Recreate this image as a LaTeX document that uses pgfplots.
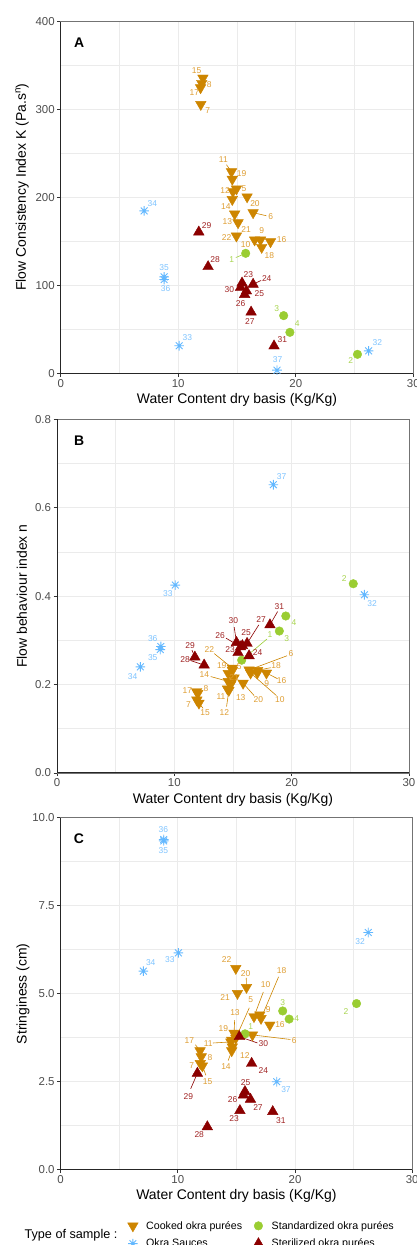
\documentclass[border=0pt]{standalone}
\usepackage{fontspec}
\setmainfont{Liberation Sans}
\usepackage{pgfplots}
\usepackage{pgfplotstable}
\pgfplotsset{compat=1.18}

\definecolor{ck}{RGB}{205,133,0}
\definecolor{ckl}{RGB}{222,157,50}
\definecolor{sd}{RGB}{154,205,50}
\definecolor{sdl}{RGB}{168,212,80}
\definecolor{sa}{RGB}{99,184,255}
\definecolor{sal}{RGB}{125,195,255}
\definecolor{st}{RGB}{139,0,0}
\definecolor{stl}{RGB}{160,35,35}
\definecolor{gridc}{RGB}{235,235,235}
\definecolor{tickc}{RGB}{77,77,77}

\newcommand\lblfont{\fontsize{8.5}{9}\selectfont}
\newcommand\tickfont{\fontsize{11.5}{13}\selectfont}
\newcommand\titlefont{\fontsize{14}{16}\selectfont}

% 8-armed asterisk, like ggplot shape 8
\pgfdeclareplotmark{ast8}{%
  \pgfpathmoveto{\pgfqpoint{-\pgfplotmarksize}{0pt}}%
  \pgfpathlineto{\pgfqpoint{\pgfplotmarksize}{0pt}}%
  \pgfpathmoveto{\pgfqpoint{0pt}{-\pgfplotmarksize}}%
  \pgfpathlineto{\pgfqpoint{0pt}{\pgfplotmarksize}}%
  \pgfpathmoveto{\pgfqpoint{-0.7071\pgfplotmarksize}{-0.7071\pgfplotmarksize}}%
  \pgfpathlineto{\pgfqpoint{0.7071\pgfplotmarksize}{0.7071\pgfplotmarksize}}%
  \pgfpathmoveto{\pgfqpoint{-0.7071\pgfplotmarksize}{0.7071\pgfplotmarksize}}%
  \pgfpathlineto{\pgfqpoint{0.7071\pgfplotmarksize}{-0.7071\pgfplotmarksize}}%
  \pgfusepathqstroke}

% columns: sample, point, label position, end of leader segment
\pgfplotstableread{
lab x y lx ly ex ey
15 12.10 336 11.57 344.3 12.10 336
8 12.00 330 12.64 328 12.00 330
17 11.90 325 11.37 319.8 11.90 325
7 11.92 306 12.50 298.5 11.92 306
11 14.53 229.5 13.84 242.8 14.10 237.5
19 14.60 221 15.40 227 14.60 221
12 14.65 207 13.98 208 14.65 207
5 14.95 210 15.60 210.7 14.95 210
14 14.60 198 14.06 189.8 14.60 198
20 15.86 201 16.53 192.8 15.86 201
6 16.37 183 17.87 178.4 17.50 179.5
13 14.80 181.5 14.18 172.7 14.80 181.5
21 15.09 171.6 15.77 163.3 15.09 171.6
22 14.95 156.5 14.12 155 14.95 156.5
9 17.00 152 17.10 162.2 17.00 152
10 16.50 152 15.74 146.3 16.50 152
16 17.85 150 18.80 152 17.85 150
18 17.10 143.6 17.75 133.8 17.10 143.6
}\ckA
\pgfplotstableread{
lab x y lx ly ex ey
1 15.74 136.8 14.55 130 14.90 132
2 25.25 22 24.67 14.8 25.25 22
3 18.97 66 18.38 74.3 18.97 66
4 19.50 47 20.13 56.5 19.50 47
}\sdA
\pgfplotstableread{
lab x y lx ly ex ey
32 26.20 26 26.94 35.2 26.20 26
33 10.08 31.8 10.77 41 10.08 31.8
34 7.10 185 7.79 193.6 7.10 185
35 8.80 110 8.79 121 8.80 110
36 8.80 107 8.93 96.3 8.80 107
37 18.40 4 18.46 15.6 18.40 4
}\saA
\pgfplotstableread{
lab x y lx ly ex ey
23 15.43 103 15.96 113 15.43 103
24 16.37 101.6 17.53 108.4 17.05 106
25 15.80 94 16.90 90.6 15.80 94
26 15.65 90 15.30 79.2 15.65 90
27 16.20 70 16.10 59 16.20 70
28 12.54 121.6 13.13 129.2 12.54 121.6
29 11.75 161 12.42 167.8 11.75 161
30 15.30 98 14.35 96 15.30 98
31 18.15 31.5 18.86 38.3 18.15 31.5
}\stA

\pgfplotstableread{
lab x y lx ly ex ey
15 12.10 0.158 12.62 0.137 12.45 0.146
8 12.00 0.180 12.70 0.190 12.00 0.180
17 11.90 0.184 11.11 0.186 11.90 0.184
7 11.92 0.165 11.20 0.154 11.92 0.165
11 14.53 0.190 13.98 0.172 14.53 0.190
19 14.60 0.225 14.04 0.242 14.60 0.225
12 14.65 0.187 14.27 0.136 14.45 0.150
5 14.95 0.232 15.54 0.240 14.95 0.232
14 14.60 0.207 12.56 0.222 13.10 0.218
20 15.86 0.203 17.16 0.167 16.80 0.175
6 16.37 0.233 19.95 0.270 19.60 0.265
13 14.80 0.200 15.66 0.171 14.80 0.200
21 15.09 0.215 15.09 0.215 15.09 0.215
22 14.95 0.237 12.99 0.278 13.40 0.270
9 17.07 0.226 17.88 0.201 17.07 0.226
10 16.50 0.226 19.00 0.167 18.70 0.175
16 17.85 0.226 19.15 0.209 18.80 0.213
18 17.10 0.232 18.67 0.242 18.20 0.238
}\ckB
\pgfplotstableread{
lab x y lx ly ex ey
1 15.74 0.255 18.16 0.312 17.90 0.303
2 25.25 0.428 24.47 0.439 25.25 0.428
3 18.95 0.321 19.58 0.304 18.95 0.321
4 19.50 0.355 20.20 0.341 19.50 0.355
}\sdB
\pgfplotstableread{
lab x y lx ly ex ey
32 26.20 0.403 26.85 0.384 26.20 0.403
33 10.08 0.425 9.44 0.406 10.08 0.425
34 7.10 0.240 6.45 0.218 7.10 0.240
35 8.80 0.279 8.16 0.262 8.80 0.279
36 8.85 0.286 8.16 0.303 8.85 0.286
37 18.44 0.652 19.15 0.670 18.44 0.652
}\saB
\pgfplotstableread{
lab x y lx ly ex ey
23 15.43 0.272 14.75 0.278 15.43 0.272
24 16.37 0.265 17.10 0.272 16.37 0.265
25 15.80 0.288 16.11 0.318 15.80 0.288
26 15.65 0.285 13.90 0.310 14.40 0.305
27 16.20 0.293 17.39 0.346 17.20 0.335
28 12.54 0.244 10.91 0.257 11.40 0.254
29 11.75 0.262 11.34 0.288 11.50 0.278
30 15.30 0.295 15.03 0.344 15.10 0.330
31 18.15 0.335 18.95 0.376 18.80 0.365
}\stB

\pgfplotstableread{
lab x y lx ly ex ey
15 12.10 2.95 12.55 2.50 12.40 2.68
8 12.00 3.21 12.75 3.19 12.00 3.21
17 11.90 3.38 10.98 3.66 11.50 3.55
7 11.92 3.02 11.18 2.97 11.92 3.02
11 14.53 3.63 12.60 3.59 13.00 3.60
19 14.60 3.68 13.88 4.02 14.60 3.68
12 14.65 3.49 15.73 3.24 14.65 3.49
5 14.95 3.74 16.22 4.82 16.10 4.60
14 14.60 3.38 14.11 2.93 14.30 3.10
20 15.86 5.18 15.79 5.58 15.84 5.45
6 16.37 3.83 19.94 3.68 19.60 3.70
13 14.80 3.88 14.88 4.46 14.85 4.25
21 15.09 5.01 14.03 4.90 15.09 5.01
22 14.95 5.72 14.17 5.96 14.95 5.72
9 17.00 4.40 17.72 4.54 17.00 4.40
10 16.50 4.35 17.50 5.25 17.30 5.05
16 17.85 4.11 18.72 4.13 17.85 4.11
18 17.10 4.30 18.86 5.67 18.60 5.48
}\ckC
\pgfplotstableread{
lab x y lx ly ex ey
1 15.74 3.86 16.22 4.06 15.74 3.86
2 25.25 4.72 24.35 4.48 25.25 4.72
3 18.95 4.51 18.95 4.76 18.95 4.51
4 19.50 4.28 20.14 4.28 19.50 4.28
}\sdC
\pgfplotstableread{
lab x y lx ly ex ey
32 26.25 6.74 25.55 6.48 26.25 6.74
33 10.05 6.16 9.33 5.96 10.05 6.16
34 7.06 5.64 7.69 5.88 7.06 5.64
35 8.80 9.34 8.76 9.08 8.80 9.34
36 8.80 9.38 8.76 9.67 8.80 9.38
37 18.44 2.50 19.23 2.28 18.44 2.50
}\saC
\pgfplotstableread{
lab x y lx ly ex ey
23 15.30 1.68 14.80 1.46 15.30 1.68
24 16.30 3.02 17.30 2.81 16.30 3.02
25 15.73 2.22 15.79 2.47 15.73 2.22
26 15.60 2.12 14.68 2.00 15.60 2.12
27 16.20 2.00 16.84 1.77 16.20 2.00
28 12.52 1.22 11.83 0.99 12.52 1.22
29 11.67 2.74 10.90 2.09 11.10 2.30
30 15.25 3.78 17.30 3.57 16.80 3.60
31 18.10 1.65 18.80 1.39 18.10 1.65
}\stC

\newcommand\segs[2]{\addplot[forget plot, #2, line width=0.6bp,
  quiver={u=\thisrow{ex}-\thisrow{x}, v=\thisrow{ey}-\thisrow{y}}] table[x=x,y=y]{#1};}
\newcommand\labs[2]{\addplot[forget plot, draw=none, nodes near coords,
  point meta=explicit symbolic,
  every node near coord/.style={anchor=center, inner sep=0pt, text=#2, font=\lblfont}]
  table[x=lx,y=ly,meta=lab]{#1};}
\newcommand\pts[4]{%
  \segs{#1}{ck}\segs{#2}{sd}\segs{#3}{sa}\segs{#4}{st}
  \addplot[only marks, mark=triangle*, mark size=6.1bp, ck,
    mark options={rotate=180, fill=ck, draw=ck, line width=0.4bp}] table[x=x,y=y]{#1};
  \addplot[only marks, mark=*, mark size=4.3bp, sd,
    mark options={fill=sd, draw=sd, line width=0.4bp}] table[x=x,y=y]{#2};
  \addplot[only marks, mark=ast8, mark size=4.8bp, sa, line width=0.9bp] table[x=x,y=y]{#3};
  \addplot[only marks, mark=triangle*, mark size=6.1bp, st,
    mark options={fill=st, draw=st, line width=0.4bp}] table[x=x,y=y]{#4};
  \labs{#1}{ckl}\labs{#2}{sdl}\labs{#3}{sal}\labs{#4}{stl}
  \draw[black!85, line width=0.9bp] (rel axis cs:0,1) -- (rel axis cs:0,0) -- (rel axis cs:1,0);}

\pgfplotsset{panel/.style={
  scale only axis, anchor=south west, clip=false,
  xmin=0, xmax=30, xtick={0,10,20,30}, minor xtick={5,15,25},
  grid=both,
  major grid style={draw=gridc, line width=0.9bp},
  minor grid style={draw=gridc, line width=0.45bp},
  axis line style={draw=black!55, line width=0.6bp},
  tick align=outside, tick pos=left,
  major tick length=3.3bp, minor tick length=0pt,
  tick style={draw=black!80, line width=0.7bp},
  ticklabel style={font=\tickfont, text=tickc, inner sep=2.5bp},
  /pgf/number format/assume math mode=true,
  xlabel={Water Content dry basis (Kg/Kg)},
  xlabel style={font=\titlefont, at={(axis description cs:0.5,0)}, anchor=center, yshift=-26.5bp},
  every axis y label/.style={rotate=90, anchor=center, font=\titlefont},
}}

\begin{document}
\begin{tikzpicture}
% Panel A
\begin{axis}[panel, at={(60.7bp,-373.7bp)}, width=352.6bp, height=352bp,
  ymin=0, ymax=400, ytick={0,100,200,300,400}, minor ytick={50,150,250,350},
  ylabel={Flow Consistency Index K (Pa.s\textsuperscript{n})},
  ylabel style={at={(axis description cs:-0.1098,0.53)}}]
  \pts{\ckA}{\sdA}{\saA}{\stA}
  \node[font=\bfseries\titlefont] at (axis cs:1.56,375.8) {A};
\end{axis}
% Panel B
\begin{axis}[panel, at={(57bp,-772.9bp)}, width=352bp, height=353.6bp,
  ymin=0, ymax=0.8, ytick={0,0.2,0.4,0.6,0.8}, minor ytick={0.1,0.3,0.5,0.7},
  yticklabel style={/pgf/number format/.cd, fixed, fixed zerofill, precision=1},
  ylabel={Flow behaviour index n},
  ylabel style={at={(axis description cs:-0.0994,0.5)}}]
  \pts{\ckB}{\sdB}{\saB}{\stB}
  \node[font=\bfseries\titlefont] at (axis cs:1.88,0.751) {B};
\end{axis}
% Panel C
\begin{axis}[panel, at={(60.6bp,-1169.7bp)}, width=351.6bp, height=352bp,
  ymin=0, ymax=10, ytick={0,2.5,5,7.5,10}, minor ytick={1.25,3.75,6.25,8.75},
  yticklabel style={/pgf/number format/.cd, fixed, fixed zerofill, precision=1},
  ylabel={Stringiness (cm)},
  ylabel style={at={(axis description cs:-0.107,0.5)}},
  legend columns=2,
  legend image code/.code={\draw[#1] plot coordinates {(0bp,0bp)};},
  legend style={at={(axis description cs:0.19,-0.14)}, anchor=north west,
    draw=none, fill=none, inner sep=0pt, row sep=4.5bp,
    font=\fontsize{10.7}{12}\selectfont,
    /tikz/every odd column/.append style={column sep=6bp},
    /tikz/every even column/.append style={column sep=9bp},
    cells={anchor=west}}]
  \pts{\ckC}{\sdC}{\saC}{\stC}
  \node[font=\bfseries\titlefont] at (axis cs:1.57,9.39) {C};
  \node[font=\fontsize{12.7}{14}\selectfont, anchor=center]
    at (axis description cs:0.0296,-0.1875) {Type of sample :};
  \legend{Cooked okra purées, Standardized okra purées, Okra Sauces, Sterilized okra purées}
\end{axis}
\pgfresetboundingbox
\path[use as bounding box] (0bp,0bp) rectangle (417bp,-1245bp);
\end{tikzpicture}
\end{document}
